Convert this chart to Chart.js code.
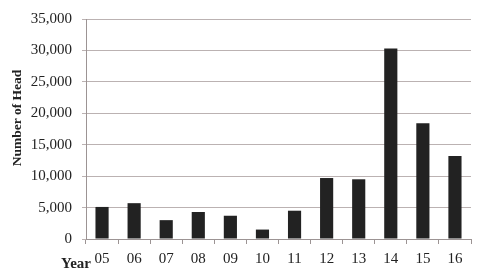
<!DOCTYPE html>
<html>
<head>
<meta charset="utf-8">
<script src="https://cdn.jsdelivr.net/npm/chart.js@4/dist/chart.umd.min.js"></script>
<style>
  html, body { margin: 0; padding: 0; background: #fff; }
  #wrap { width: 485px; height: 275px; }
</style>
</head>
<body>
<div id="wrap"><canvas id="chart"></canvas></div>
<script>
// CHART DATA
const years = ['05', '06', '07', '08', '09', '10', '11', '12', '13', '14', '15', '16'];
const heads = [5100, 5700, 3000, 4300, 3700, 1500, 4500, 9700, 9500, 30300, 18400, 13200];
const yMax = 35000;
const yStep = 5000;

const serif = 'Liberation Serif';
const gridColor = '#bbb2b2';

// axis titles sit off-centre in the original, so they are placed by hand
const axisTitles = {
    id: 'axisTitles',
    afterDraw(chart) {
        const c = chart.ctx;
        c.save();
        c.fillStyle = '#222';
        c.textBaseline = 'middle';
        // "Year" left of the first tick label
        c.font = 'bold 15px "' + serif + '"';
        c.textAlign = 'right';
        c.fillText('Year', chart.chartArea.left + 5, 264);
        // y title, rotated
        c.font = 'bold 13.5px "' + serif + '"';
        c.textAlign = 'center';
        c.translate(18, 118);
        c.rotate(-Math.PI / 2);
        c.fillText('Number of Head', 0, 0);
        c.restore();
    }
};

var ctx = document.getElementById('chart').getContext('2d');
var myChart = new Chart(ctx, {
    type: 'bar',
    data: {
        labels: years,
        datasets: [{
            label: 'Number of Head',
            data: heads,
            backgroundColor: '#222222',
            borderWidth: 0,
            categoryPercentage: 1,
            barPercentage: 0.41
        }]
    },
    options: {
        responsive: true,
        maintainAspectRatio: false,
        animation: false,
        layout: { padding: { left: 0, right: 14, top: 12, bottom: 0 } },
        plugins: {
            legend: { display: false },
            tooltip: { enabled: false }
        },
        scales: {
            x: {
                offset: true,
                grid: {
                    offset: true,
                    drawOnChartArea: false,
                    drawTicks: true,
                    tickLength: 5,
                    color: '#9c9494'
                },
                border: { display: true, color: '#9c9494' },
                ticks: {
                    color: '#222',
                    padding: 6,
                    font: { family: serif, size: 15 }
                },
                afterFit(scale) { scale.height = 36; }
            },
            y: {
                min: 0,
                max: yMax,
                ticks: {
                    stepSize: yStep,
                    color: '#222',
                    padding: 10,
                    font: { family: serif, size: 15 }
                },
                grid: {
                    color: gridColor,
                    tickLength: 4
                },
                border: { display: true, color: '#9c9494' },
                afterFit(scale) { scale.width = 86; }
            }
        }
    },
    plugins: [axisTitles]
});
</script>
</body>
</html>
